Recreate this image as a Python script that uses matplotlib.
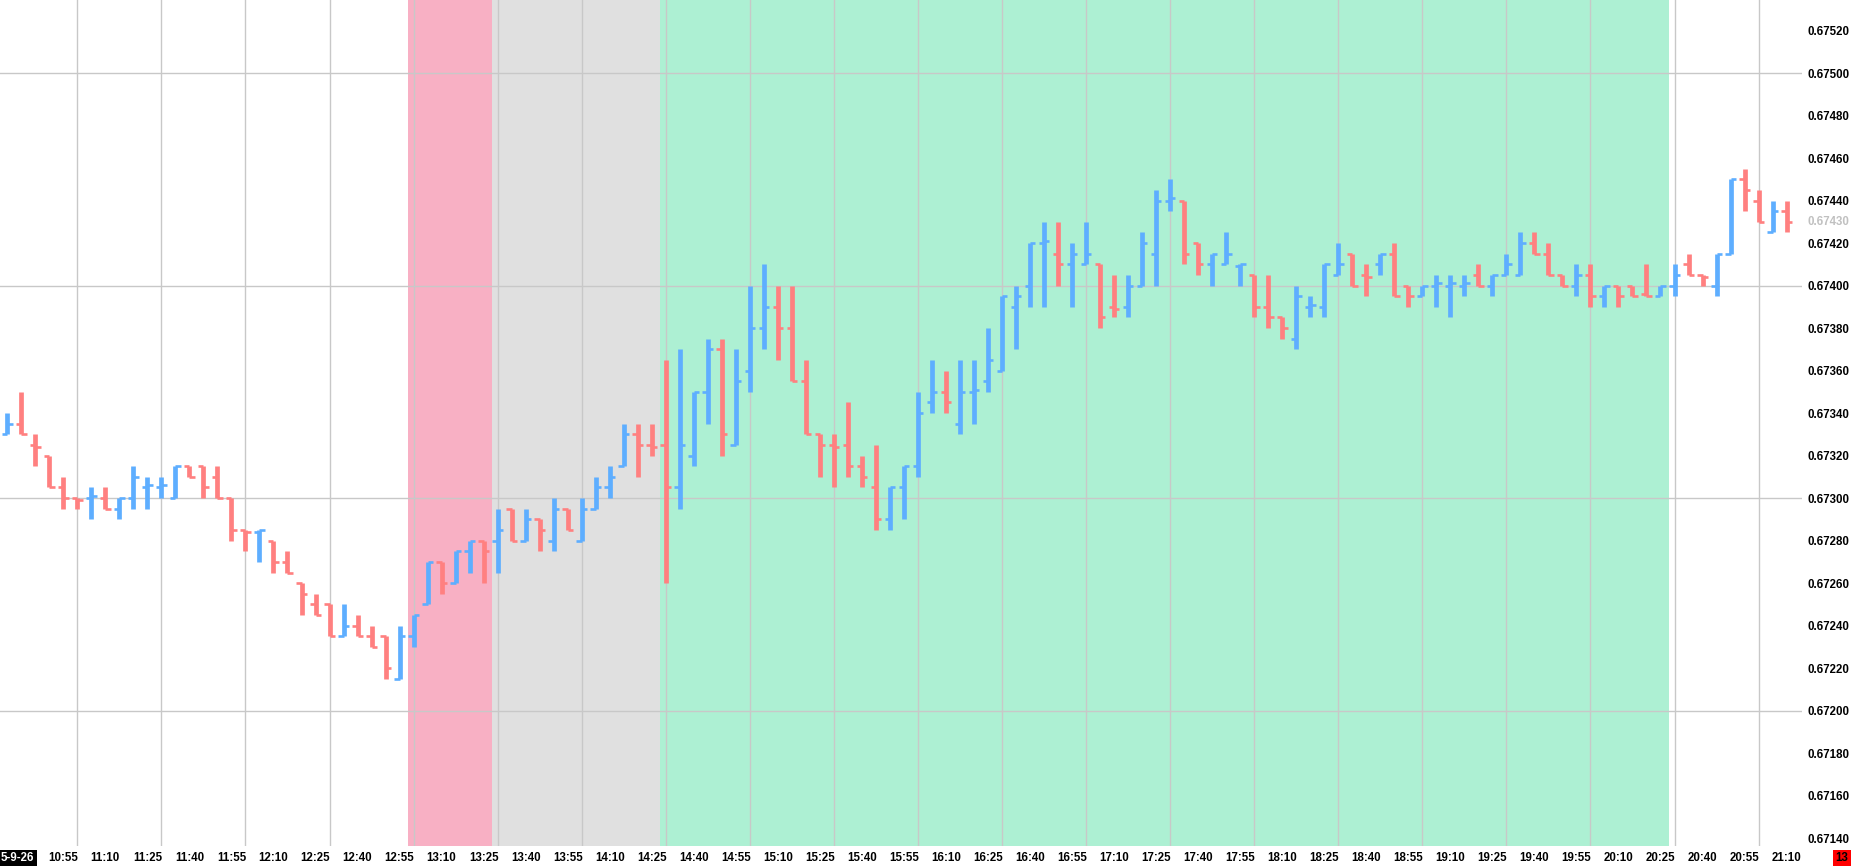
import matplotlib.pyplot as plt
import numpy as np

plt.rcParams['font.family'] = ['Liberation Sans', 'DejaVu Sans']

# 5 minute OHLC bars, 10:35 -> 21:10
opens = [0.67330, 0.67335, 0.67325, 0.67320, 0.67305, 0.67300, 0.67300, 0.67300, 0.67295, 0.67300,
         0.67305, 0.67305, 0.67300, 0.67315, 0.67315, 0.67310, 0.67300, 0.67285, 0.67284, 0.67280,
         0.67270, 0.67260, 0.67250, 0.67250, 0.67235, 0.67240, 0.67235, 0.67235, 0.67215, 0.67235,
         0.67250, 0.67270, 0.67260, 0.67275, 0.67280, 0.67280, 0.67295, 0.67280, 0.67290, 0.67280,
         0.67295, 0.67280, 0.67295, 0.67305, 0.67315, 0.67330, 0.67325, 0.67325, 0.67305, 0.67320,
         0.67350, 0.67370, 0.67325, 0.67360, 0.67380, 0.67390, 0.67380, 0.67355, 0.67330, 0.67325,
         0.67325, 0.67315, 0.67305, 0.67290, 0.67305, 0.67315, 0.67345, 0.67350, 0.67335, 0.67350,
         0.67355, 0.67360, 0.67390, 0.67400, 0.67420, 0.67415, 0.67410, 0.67410, 0.67410, 0.67390,
         0.67390, 0.67400, 0.67415, 0.67440, 0.67440, 0.67420, 0.67410, 0.67410, 0.67409, 0.67405,
         0.67390, 0.67385, 0.67375, 0.67390, 0.67390, 0.67405, 0.67415, 0.67405, 0.67410, 0.67415,
         0.67400, 0.67395, 0.67400, 0.67400, 0.67400, 0.67405, 0.67400, 0.67405, 0.67405, 0.67420,
         0.67415, 0.67405, 0.67400, 0.67405, 0.67395, 0.67400, 0.67400, 0.67396, 0.67395, 0.67400,
         0.67410, 0.67405, 0.67400, 0.67415, 0.67450, 0.67440, 0.67425, 0.67435]
highs = [0.67340, 0.67350, 0.67330, 0.67320, 0.67310, 0.67300, 0.67305, 0.67305, 0.67300, 0.67315,
         0.67310, 0.67310, 0.67315, 0.67315, 0.67315, 0.67315, 0.67300, 0.67285, 0.67285, 0.67280,
         0.67275, 0.67260, 0.67255, 0.67250, 0.67250, 0.67245, 0.67240, 0.67235, 0.67240, 0.67245,
         0.67270, 0.67270, 0.67275, 0.67280, 0.67280, 0.67295, 0.67295, 0.67295, 0.67290, 0.67300,
         0.67295, 0.67300, 0.67310, 0.67315, 0.67335, 0.67335, 0.67335, 0.67365, 0.67370, 0.67350,
         0.67375, 0.67375, 0.67370, 0.67400, 0.67410, 0.67400, 0.67400, 0.67365, 0.67330, 0.67330,
         0.67345, 0.67320, 0.67325, 0.67305, 0.67315, 0.67350, 0.67365, 0.67360, 0.67365, 0.67365,
         0.67380, 0.67395, 0.67400, 0.67420, 0.67430, 0.67430, 0.67420, 0.67430, 0.67410, 0.67405,
         0.67405, 0.67425, 0.67445, 0.67450, 0.67440, 0.67420, 0.67415, 0.67425, 0.67410, 0.67405,
         0.67405, 0.67385, 0.67400, 0.67395, 0.67410, 0.67420, 0.67415, 0.67410, 0.67415, 0.67420,
         0.67400, 0.67400, 0.67405, 0.67405, 0.67405, 0.67410, 0.67405, 0.67415, 0.67425, 0.67425,
         0.67420, 0.67405, 0.67410, 0.67410, 0.67400, 0.67400, 0.67400, 0.67410, 0.67400, 0.67410,
         0.67415, 0.67405, 0.67415, 0.67450, 0.67455, 0.67445, 0.67440, 0.67440]
lows = [0.67330, 0.67330, 0.67315, 0.67305, 0.67295, 0.67295, 0.67290, 0.67295, 0.67290, 0.67295,
        0.67295, 0.67300, 0.67300, 0.67310, 0.67300, 0.67300, 0.67280, 0.67275, 0.67270, 0.67265,
        0.67265, 0.67245, 0.67245, 0.67235, 0.67235, 0.67235, 0.67230, 0.67215, 0.67215, 0.67230,
        0.67250, 0.67255, 0.67260, 0.67265, 0.67260, 0.67265, 0.67280, 0.67280, 0.67275, 0.67275,
        0.67285, 0.67280, 0.67295, 0.67300, 0.67315, 0.67310, 0.67320, 0.67260, 0.67295, 0.67315,
        0.67335, 0.67320, 0.67325, 0.67350, 0.67370, 0.67365, 0.67355, 0.67330, 0.67310, 0.67305,
        0.67310, 0.67305, 0.67285, 0.67285, 0.67290, 0.67310, 0.67340, 0.67340, 0.67330, 0.67335,
        0.67350, 0.67360, 0.67370, 0.67390, 0.67390, 0.67400, 0.67390, 0.67410, 0.67380, 0.67385,
        0.67385, 0.67400, 0.67400, 0.67435, 0.67410, 0.67405, 0.67400, 0.67410, 0.67400, 0.67385,
        0.67380, 0.67375, 0.67370, 0.67385, 0.67385, 0.67405, 0.67400, 0.67395, 0.67405, 0.67395,
        0.67390, 0.67395, 0.67390, 0.67385, 0.67395, 0.67400, 0.67395, 0.67405, 0.67405, 0.67415,
        0.67405, 0.67400, 0.67395, 0.67390, 0.67390, 0.67390, 0.67395, 0.67395, 0.67395, 0.67395,
        0.67405, 0.67400, 0.67395, 0.67415, 0.67435, 0.67430, 0.67425, 0.67425]
closes = [0.67335, 0.67330, 0.67324, 0.67305, 0.67300, 0.67299, 0.67301, 0.67295, 0.67300, 0.67310,
          0.67306, 0.67306, 0.67315, 0.67310, 0.67305, 0.67300, 0.67285, 0.67284, 0.67285, 0.67270,
          0.67265, 0.67255, 0.67245, 0.67235, 0.67240, 0.67235, 0.67230, 0.67220, 0.67235, 0.67245,
          0.67270, 0.67260, 0.67275, 0.67280, 0.67275, 0.67285, 0.67280, 0.67290, 0.67285, 0.67295,
          0.67285, 0.67295, 0.67305, 0.67310, 0.67330, 0.67325, 0.67324, 0.67305, 0.67325, 0.67350,
          0.67370, 0.67330, 0.67355, 0.67380, 0.67390, 0.67380, 0.67355, 0.67330, 0.67325, 0.67324,
          0.67315, 0.67310, 0.67290, 0.67305, 0.67315, 0.67340, 0.67350, 0.67345, 0.67350, 0.67351,
          0.67365, 0.67395, 0.67395, 0.67420, 0.67421, 0.67410, 0.67415, 0.67415, 0.67385, 0.67389,
          0.67400, 0.67420, 0.67440, 0.67441, 0.67415, 0.67410, 0.67415, 0.67415, 0.67410, 0.67390,
          0.67385, 0.67380, 0.67395, 0.67391, 0.67410, 0.67410, 0.67400, 0.67404, 0.67415, 0.67395,
          0.67395, 0.67400, 0.67401, 0.67401, 0.67401, 0.67400, 0.67405, 0.67410, 0.67420, 0.67415,
          0.67405, 0.67400, 0.67405, 0.67395, 0.67400, 0.67395, 0.67395, 0.67395, 0.67400, 0.67405,
          0.67405, 0.67404, 0.67415, 0.67450, 0.67445, 0.67430, 0.67435, 0.67430]

time_labels = ['10:55', '11:10', '11:25', '11:40', '11:55', '12:10', '12:25', '12:40', '12:55', '13:10',
               '13:25', '13:40', '13:55', '14:10', '14:25', '14:40', '14:55', '15:10', '15:25', '15:40',
               '15:55', '16:10', '16:25', '16:40', '16:55', '17:10', '17:25', '17:40', '17:55', '18:10',
               '18:25', '18:40', '18:55', '19:10', '19:25', '19:40', '19:55', '20:10', '20:25', '20:40',
               '20:55', '21:10']
first_label_bar = 4  # 10:55 bar

# session boundaries, as bar indices: 13:00, 13:30, 14:30, 20:30
session_edges = [29, 35, 47, 119]
session_colors = ['#F8B0C4', '#E0E0E0', '#ADF0D3']

last_price = 0.67430

o = np.array(opens)
h = np.array(highs)
l = np.array(lows)
c = np.array(closes)
x = np.arange(len(o))

blue = '#5EAEFF'
red = '#FF8080'
colors = np.where(c > o, blue, red)

fig = plt.figure(figsize=(18.51, 8.66), dpi=100)
ax = fig.add_axes([0, 20 / 866, 1802 / 1851, 846 / 866])

for i in range(len(session_colors)):
    ax.axvspan(session_edges[i] - 0.42, session_edges[i + 1] - 0.42,
               color=session_colors[i], lw=0, zorder=0)

# grid: every 30 min, every 0.001
for gx in range(5, len(o), 6):
    ax.axvline(gx, color='#C8C8C8', lw=1, zorder=1)
for gy in [0.672, 0.673, 0.674, 0.675]:
    ax.axhline(gy, color='#C8C8C8', lw=1, zorder=1)

bars = ax.vlines(x, l, h, colors=colors, lw=3.4, zorder=3)
bars.set_capstyle('butt')
ot = ax.hlines(o, x - 0.38, x, colors=colors, lw=1.9, zorder=3)
ct = ax.hlines(c, x, x + 0.38, colors=colors, lw=1.9, zorder=3)
ot.set_capstyle('butt')
ct.set_capstyle('butt')

ax.set_xlim(-0.52, 128.1)
ax.set_ylim(0.671363, 0.675344)

for s in ax.spines.values():
    s.set_visible(False)

tick_pos = np.arange(first_label_bar, first_label_bar + 3 * len(time_labels), 3)
ax.set_xticks(tick_pos, time_labels)
yt = np.arange(0.6714, 0.67521, 0.0002)
ax.set_yticks(yt, [f'{v:.5f}' for v in yt])
ax.yaxis.tick_right()
ax.tick_params(axis='x', length=0, pad=4, labelsize=8.3)
ax.tick_params(axis='y', length=0, pad=4, labelsize=8.3)
for t in ax.get_xticklabels() + ax.get_yticklabels():
    t.set_fontweight('bold')

ax.text(1 + 5 / 1802, last_price, f'{last_price:.5f}', transform=ax.get_yaxis_transform(),
        color='#C0C0C0', fontsize=8.3, fontweight='bold', va='center', ha='left')

fig.text(1 / 1851, 8 / 866, '5-9-26', color='white', fontsize=8.3, fontweight='bold',
         va='center', ha='left', bbox=dict(facecolor='black', edgecolor='none', pad=1.5))
fig.text(1842 / 1851, 8 / 866, '13', color='black', fontsize=8.3, fontweight='bold',
         va='center', ha='center', bbox=dict(facecolor='#FF0000', edgecolor='none', pad=1.5))

fig.savefig('out.png', dpi=100)
